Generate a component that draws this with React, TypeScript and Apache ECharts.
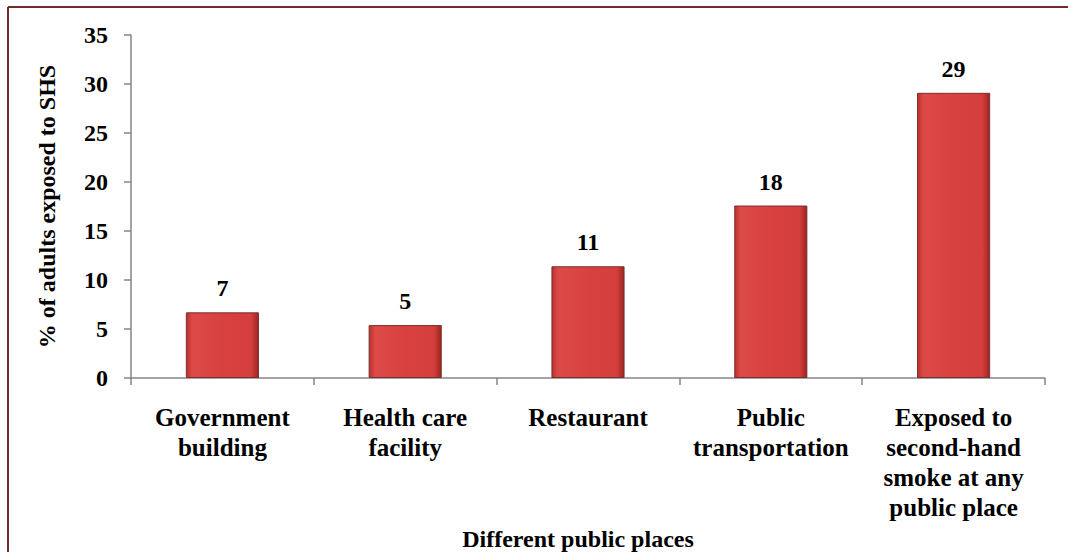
import React, { useEffect, useRef } from "react";
import * as echarts from "echarts";

const categories = [
  "Government\nbuilding",
  "Health care\nfacility",
  "Restaurant",
  "Public\ntransportation",
  "Exposed to\nsecond-hand\nsmoke at any\npublic place",
];
const values = [6.7, 5.4, 11.4, 17.6, 29.1];
const yTicks = { min: 0, max: 35, interval: 5 };
const yName = "% of adults exposed to SHS";
const xName = "Different public places";

const FONT = "Times New Roman, Liberation Serif, serif";

export default function App() {
  const ref = useRef<HTMLDivElement>(null);
  useEffect(() => {
    document.body.style.margin = "0";
    const chart = echarts.init(ref.current!, null, { renderer: "svg" });
    chart.setOption({
      animation: false,
      backgroundColor: "#ffffff",
      textStyle: { fontFamily: FONT },
      grid: {
        left: 131,
        right: 23,
        top: 35,
        bottom: 174,
        containLabel: false,
        outerBoundsMode: "none",
      },
      graphic: [
        { type: "line", shape: { x1: 8, y1: 7, x2: 1068, y2: 7 }, style: { stroke: "#6d2b2b", lineWidth: 2 } },
        { type: "line", shape: { x1: 8, y1: 7, x2: 8, y2: 552 }, style: { stroke: "#6d2b2b", lineWidth: 2 } },
      ],
      xAxis: {
        type: "category",
        data: categories,
        name: xName,
        nameLocation: "middle",
        nameGap: 145,
        nameTextStyle: {
          fontFamily: FONT,
          fontWeight: "bold",
          fontSize: 24,
          color: "#000",
          padding: [0, 20, 0, 0],
        },
        axisLine: { lineStyle: { color: "#868686", width: 1.5 } },
        axisTick: { show: true, length: 7, lineStyle: { color: "#868686", width: 1.5 } },
        axisLabel: {
          interval: 0,
          margin: 24,
          fontFamily: FONT,
          fontWeight: "bold",
          fontSize: 25,
          lineHeight: 30,
          color: "#000",
        },
      },
      yAxis: {
        type: "value",
        min: yTicks.min,
        max: yTicks.max,
        interval: yTicks.interval,
        name: yName,
        nameLocation: "middle",
        nameGap: 72,
        nameRotate: 90,
        nameTextStyle: { fontFamily: FONT, fontWeight: "bold", fontSize: 24, color: "#000" },
        splitLine: { show: false },
        axisLine: { show: true, lineStyle: { color: "#868686", width: 1.5 } },
        axisTick: { show: true, length: 7, lineStyle: { color: "#868686", width: 1.5 } },
        axisLabel: {
          margin: 23,
          fontFamily: FONT,
          fontWeight: "bold",
          fontSize: 24,
          color: "#000",
        },
      },
      series: [
        {
          type: "bar",
          data: values,
          barWidth: "40%",
          itemStyle: {
            color: new echarts.graphic.LinearGradient(0, 0, 1, 0, [
              { offset: 0, color: "#b8302d" },
              { offset: 0.08, color: "#dc4a47" },
              { offset: 0.5, color: "#d8413f" },
              { offset: 0.9, color: "#d43e3c" },
              { offset: 1, color: "#9c2422" },
            ]),
            borderColor: "#7a3030",
            borderWidth: 1,
          },
          label: {
            show: true,
            position: "top",
            distance: 12,
            formatter: (p: any) => String(Math.round(p.value)),
            fontFamily: FONT,
            fontWeight: "bold",
            fontSize: 24,
            color: "#000",
          },
        },
      ],
    });
    return () => chart.dispose();
  }, []);
  return <div ref={ref} style={{ width: 1068, height: 552 }} />;
}
